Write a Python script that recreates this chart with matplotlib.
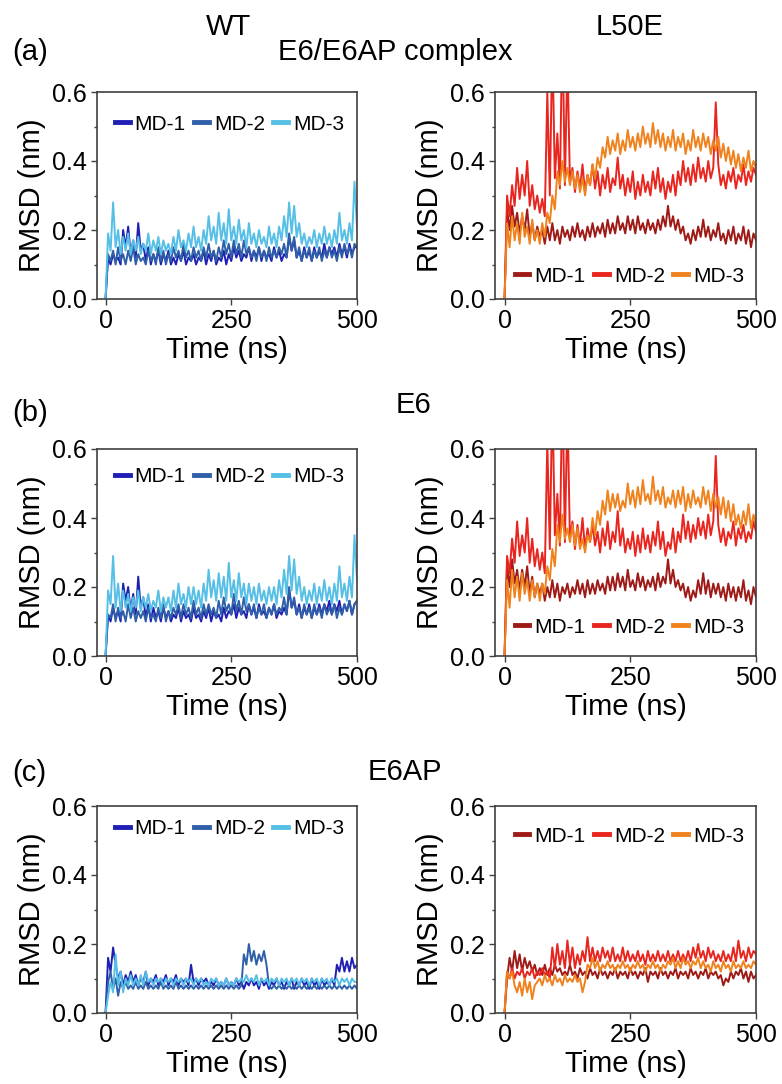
import numpy as np
import matplotlib.pyplot as plt

plt.rcParams['font.family'] = ['Liberation Sans', 'DejaVu Sans']

labels = ["MD-1", "MD-2", "MD-3"]
wt_colors = ["#1f1fb4", "#2f5fa8", "#55bfe6"]
mut_colors = ["#9e1a16", "#e8251e", "#f0821e"]

# (a) E6/E6AP complex
wt_a_md1 = [0.00, 0.12, 0.10, 0.13, 0.11, 0.12, 0.10, 0.20, 0.15, 0.21, 0.13, 0.17, 0.12, 0.22, 0.14, 0.16, 0.11, 0.15, 0.10, 0.13,
            0.11, 0.14, 0.10, 0.13, 0.11, 0.14, 0.10, 0.12, 0.10, 0.13, 0.11, 0.14, 0.10, 0.12, 0.11, 0.13, 0.10, 0.12, 0.11, 0.14,
            0.10, 0.13, 0.11, 0.14, 0.10, 0.12, 0.11, 0.14, 0.10, 0.13, 0.11, 0.15, 0.12, 0.14, 0.11, 0.13, 0.12, 0.15, 0.11, 0.14,
            0.12, 0.15, 0.11, 0.14, 0.12, 0.13, 0.11, 0.15, 0.12, 0.14, 0.11, 0.13, 0.12, 0.18, 0.14, 0.17, 0.12, 0.14, 0.11, 0.15,
            0.12, 0.14, 0.11, 0.15, 0.12, 0.14, 0.12, 0.16, 0.12, 0.15, 0.13, 0.15, 0.12, 0.16, 0.13, 0.15, 0.12, 0.16, 0.13, 0.15, 0.15]
wt_a_md2 = [0.00, 0.13, 0.11, 0.14, 0.10, 0.15, 0.11, 0.13, 0.10, 0.14, 0.11, 0.15, 0.10, 0.13, 0.11, 0.12, 0.10, 0.14, 0.11, 0.13,
            0.10, 0.15, 0.11, 0.14, 0.10, 0.13, 0.11, 0.15, 0.12, 0.14, 0.11, 0.16, 0.12, 0.14, 0.11, 0.15, 0.12, 0.14, 0.11, 0.15,
            0.12, 0.16, 0.12, 0.14, 0.11, 0.15, 0.12, 0.17, 0.13, 0.16, 0.12, 0.17, 0.13, 0.16, 0.12, 0.17, 0.13, 0.15, 0.12, 0.14,
            0.11, 0.15, 0.12, 0.14, 0.11, 0.15, 0.12, 0.14, 0.12, 0.15, 0.13, 0.16, 0.12, 0.19, 0.14, 0.18, 0.12, 0.15, 0.11, 0.14,
            0.12, 0.15, 0.11, 0.14, 0.12, 0.15, 0.11, 0.14, 0.12, 0.15, 0.12, 0.14, 0.11, 0.15, 0.12, 0.16, 0.13, 0.15, 0.12, 0.16, 0.15]
wt_a_md3 = [0.00, 0.19, 0.14, 0.28, 0.15, 0.20, 0.13, 0.18, 0.14, 0.19, 0.13, 0.17, 0.14, 0.18, 0.13, 0.16, 0.14, 0.19, 0.13, 0.17,
            0.14, 0.18, 0.13, 0.17, 0.14, 0.16, 0.13, 0.18, 0.14, 0.20, 0.15, 0.17, 0.14, 0.19, 0.15, 0.21, 0.15, 0.18, 0.14, 0.20,
            0.16, 0.24, 0.17, 0.21, 0.16, 0.25, 0.17, 0.22, 0.16, 0.26, 0.17, 0.21, 0.16, 0.23, 0.17, 0.20, 0.15, 0.22, 0.16, 0.19,
            0.15, 0.20, 0.16, 0.18, 0.15, 0.21, 0.16, 0.19, 0.15, 0.21, 0.17, 0.24, 0.18, 0.28, 0.19, 0.27, 0.18, 0.22, 0.16, 0.19,
            0.15, 0.18, 0.16, 0.20, 0.15, 0.19, 0.16, 0.21, 0.16, 0.19, 0.15, 0.20, 0.16, 0.25, 0.17, 0.20, 0.16, 0.22, 0.17, 0.34, 0.21]
mut_a_md1 = [0.00, 0.26, 0.20, 0.27, 0.21, 0.25, 0.19, 0.24, 0.20, 0.26, 0.18, 0.22, 0.17, 0.21, 0.18, 0.20, 0.16, 0.21, 0.17, 0.22,
             0.17, 0.20, 0.16, 0.21, 0.18, 0.20, 0.17, 0.21, 0.18, 0.22, 0.18, 0.20, 0.17, 0.21, 0.18, 0.22, 0.18, 0.21, 0.19, 0.22,
             0.18, 0.23, 0.19, 0.22, 0.19, 0.24, 0.20, 0.22, 0.19, 0.24, 0.20, 0.23, 0.19, 0.24, 0.20, 0.22, 0.19, 0.23, 0.20, 0.22,
             0.19, 0.23, 0.20, 0.24, 0.21, 0.27, 0.21, 0.24, 0.20, 0.23, 0.19, 0.21, 0.17, 0.19, 0.16, 0.20, 0.17, 0.21, 0.18, 0.23,
             0.18, 0.21, 0.17, 0.20, 0.18, 0.22, 0.17, 0.19, 0.16, 0.20, 0.17, 0.21, 0.16, 0.19, 0.17, 0.21, 0.16, 0.20, 0.15, 0.19, 0.17]
mut_a_md2 = [0.00, 0.30, 0.24, 0.33, 0.27, 0.38, 0.29, 0.36, 0.30, 0.40, 0.27, 0.33, 0.26, 0.30, 0.25, 0.29, 0.24, 0.60, 0.30, 0.75,
             0.35, 0.48, 0.32, 0.80, 0.33, 0.70, 0.34, 0.38, 0.31, 0.37, 0.32, 0.39, 0.31, 0.36, 0.33, 0.39, 0.32, 0.37, 0.30, 0.36,
             0.32, 0.38, 0.31, 0.35, 0.33, 0.41, 0.32, 0.36, 0.30, 0.35, 0.31, 0.37, 0.29, 0.34, 0.30, 0.36, 0.31, 0.34, 0.30, 0.37,
             0.32, 0.38, 0.31, 0.35, 0.29, 0.34, 0.31, 0.36, 0.30, 0.37, 0.33, 0.40, 0.34, 0.38, 0.33, 0.39, 0.34, 0.41, 0.35, 0.38,
             0.34, 0.40, 0.35, 0.38, 0.57, 0.39, 0.33, 0.36, 0.32, 0.37, 0.34, 0.38, 0.32, 0.36, 0.34, 0.39, 0.33, 0.37, 0.34, 0.38, 0.36]
mut_a_md3 = [0.00, 0.22, 0.15, 0.24, 0.17, 0.22, 0.16, 0.25, 0.18, 0.21, 0.16, 0.23, 0.17, 0.20, 0.16, 0.22, 0.18, 0.25, 0.22, 0.30,
             0.26, 0.37, 0.33, 0.40, 0.34, 0.38, 0.33, 0.37, 0.32, 0.36, 0.31, 0.35, 0.30, 0.36, 0.33, 0.39, 0.35, 0.41, 0.38, 0.44,
             0.41, 0.47, 0.42, 0.46, 0.43, 0.48, 0.42, 0.46, 0.43, 0.49, 0.44, 0.47, 0.43, 0.48, 0.44, 0.50, 0.45, 0.48, 0.44, 0.51,
             0.45, 0.49, 0.44, 0.48, 0.43, 0.47, 0.44, 0.49, 0.43, 0.47, 0.44, 0.48, 0.42, 0.46, 0.43, 0.49, 0.44, 0.47, 0.43, 0.48,
             0.44, 0.47, 0.42, 0.46, 0.43, 0.47, 0.41, 0.45, 0.40, 0.44, 0.39, 0.43, 0.38, 0.42, 0.37, 0.41, 0.38, 0.43, 0.37, 0.40, 0.38]

# (b) E6
wt_b_md1 = [0.00, 0.12, 0.10, 0.14, 0.11, 0.13, 0.10, 0.21, 0.16, 0.20, 0.13, 0.18, 0.12, 0.23, 0.14, 0.17, 0.11, 0.15, 0.10, 0.14,
            0.11, 0.13, 0.10, 0.14, 0.11, 0.13, 0.10, 0.12, 0.11, 0.14, 0.10, 0.13, 0.11, 0.12, 0.10, 0.14, 0.11, 0.12, 0.10, 0.13,
            0.11, 0.14, 0.10, 0.13, 0.11, 0.12, 0.10, 0.14, 0.11, 0.13, 0.12, 0.15, 0.11, 0.14, 0.12, 0.13, 0.11, 0.15, 0.12, 0.14,
            0.11, 0.15, 0.12, 0.13, 0.11, 0.14, 0.12, 0.15, 0.11, 0.13, 0.12, 0.14, 0.12, 0.19, 0.14, 0.16, 0.12, 0.15, 0.11, 0.14,
            0.12, 0.15, 0.11, 0.14, 0.12, 0.15, 0.12, 0.15, 0.13, 0.16, 0.12, 0.15, 0.13, 0.16, 0.12, 0.15, 0.13, 0.16, 0.12, 0.15, 0.16]
wt_b_md2 = [0.00, 0.12, 0.11, 0.15, 0.10, 0.14, 0.11, 0.13, 0.10, 0.15, 0.11, 0.14, 0.10, 0.13, 0.11, 0.13, 0.10, 0.14, 0.11, 0.12,
            0.10, 0.14, 0.11, 0.15, 0.10, 0.13, 0.11, 0.14, 0.12, 0.15, 0.11, 0.15, 0.12, 0.14, 0.11, 0.16, 0.12, 0.14, 0.11, 0.15,
            0.12, 0.15, 0.12, 0.14, 0.11, 0.16, 0.12, 0.17, 0.13, 0.15, 0.12, 0.18, 0.13, 0.16, 0.12, 0.17, 0.13, 0.15, 0.12, 0.15,
            0.11, 0.14, 0.12, 0.15, 0.11, 0.14, 0.12, 0.15, 0.12, 0.14, 0.13, 0.17, 0.12, 0.20, 0.14, 0.17, 0.12, 0.14, 0.11, 0.15,
            0.12, 0.14, 0.11, 0.15, 0.12, 0.14, 0.11, 0.15, 0.12, 0.14, 0.12, 0.15, 0.11, 0.14, 0.12, 0.15, 0.13, 0.16, 0.12, 0.15, 0.16]
wt_b_md3 = [0.00, 0.19, 0.15, 0.29, 0.14, 0.21, 0.13, 0.19, 0.14, 0.18, 0.13, 0.17, 0.14, 0.19, 0.13, 0.17, 0.14, 0.18, 0.13, 0.16,
            0.14, 0.19, 0.13, 0.17, 0.14, 0.17, 0.13, 0.19, 0.14, 0.21, 0.15, 0.18, 0.14, 0.20, 0.15, 0.20, 0.15, 0.19, 0.14, 0.21,
            0.16, 0.25, 0.17, 0.22, 0.16, 0.24, 0.17, 0.23, 0.16, 0.27, 0.17, 0.22, 0.16, 0.24, 0.17, 0.21, 0.15, 0.21, 0.16, 0.20,
            0.15, 0.21, 0.16, 0.19, 0.15, 0.20, 0.16, 0.20, 0.15, 0.22, 0.17, 0.25, 0.18, 0.29, 0.19, 0.28, 0.18, 0.23, 0.16, 0.20,
            0.15, 0.19, 0.16, 0.21, 0.15, 0.20, 0.16, 0.22, 0.16, 0.20, 0.15, 0.21, 0.16, 0.26, 0.17, 0.21, 0.16, 0.23, 0.17, 0.35, 0.22]
mut_b_md1 = [0.00, 0.27, 0.20, 0.28, 0.21, 0.25, 0.19, 0.25, 0.20, 0.26, 0.18, 0.23, 0.17, 0.21, 0.18, 0.21, 0.16, 0.20, 0.17, 0.22,
             0.17, 0.21, 0.16, 0.20, 0.18, 0.21, 0.17, 0.20, 0.18, 0.22, 0.18, 0.21, 0.17, 0.22, 0.18, 0.21, 0.18, 0.22, 0.19, 0.21,
             0.18, 0.23, 0.19, 0.23, 0.19, 0.24, 0.20, 0.23, 0.19, 0.25, 0.20, 0.22, 0.19, 0.24, 0.20, 0.23, 0.19, 0.22, 0.20, 0.23,
             0.19, 0.24, 0.20, 0.23, 0.21, 0.28, 0.21, 0.25, 0.20, 0.22, 0.19, 0.21, 0.17, 0.20, 0.16, 0.19, 0.17, 0.22, 0.18, 0.24,
             0.18, 0.22, 0.17, 0.21, 0.18, 0.21, 0.17, 0.20, 0.16, 0.21, 0.17, 0.20, 0.16, 0.20, 0.17, 0.22, 0.16, 0.19, 0.15, 0.20, 0.17]
mut_b_md2 = [0.00, 0.29, 0.24, 0.34, 0.27, 0.39, 0.29, 0.35, 0.30, 0.40, 0.27, 0.34, 0.26, 0.31, 0.25, 0.30, 0.24, 0.62, 0.31, 0.76,
             0.35, 0.47, 0.32, 0.80, 0.33, 0.72, 0.34, 0.39, 0.31, 0.38, 0.32, 0.40, 0.31, 0.37, 0.33, 0.38, 0.32, 0.36, 0.30, 0.37,
             0.32, 0.39, 0.31, 0.36, 0.33, 0.42, 0.32, 0.37, 0.30, 0.34, 0.31, 0.36, 0.29, 0.35, 0.30, 0.37, 0.31, 0.35, 0.30, 0.36,
             0.32, 0.39, 0.31, 0.36, 0.29, 0.33, 0.31, 0.37, 0.30, 0.36, 0.33, 0.41, 0.34, 0.39, 0.33, 0.38, 0.34, 0.40, 0.35, 0.39,
             0.34, 0.41, 0.35, 0.39, 0.58, 0.38, 0.33, 0.37, 0.32, 0.36, 0.34, 0.39, 0.32, 0.37, 0.34, 0.38, 0.33, 0.36, 0.34, 0.39, 0.36]
mut_b_md3 = [0.00, 0.22, 0.14, 0.25, 0.17, 0.23, 0.16, 0.24, 0.18, 0.22, 0.16, 0.22, 0.17, 0.21, 0.16, 0.21, 0.18, 0.26, 0.22, 0.31,
             0.26, 0.38, 0.33, 0.41, 0.34, 0.37, 0.33, 0.38, 0.32, 0.37, 0.31, 0.34, 0.30, 0.35, 0.33, 0.40, 0.35, 0.42, 0.38, 0.45,
             0.41, 0.48, 0.42, 0.47, 0.43, 0.47, 0.42, 0.45, 0.43, 0.50, 0.44, 0.48, 0.43, 0.49, 0.44, 0.51, 0.45, 0.47, 0.44, 0.52,
             0.45, 0.48, 0.44, 0.49, 0.43, 0.46, 0.44, 0.48, 0.43, 0.48, 0.44, 0.49, 0.42, 0.47, 0.43, 0.48, 0.44, 0.46, 0.43, 0.49,
             0.44, 0.48, 0.42, 0.47, 0.43, 0.46, 0.41, 0.46, 0.40, 0.45, 0.39, 0.44, 0.38, 0.41, 0.37, 0.42, 0.38, 0.44, 0.37, 0.41, 0.38]

# (c) E6AP
wt_c_md1 = [0.00, 0.16, 0.12, 0.19, 0.14, 0.10, 0.12, 0.08, 0.11, 0.09, 0.12, 0.09, 0.11, 0.08, 0.10, 0.09, 0.12, 0.08, 0.10, 0.09,
            0.11, 0.08, 0.10, 0.09, 0.11, 0.08, 0.10, 0.09, 0.11, 0.08, 0.10, 0.09, 0.10, 0.08, 0.14, 0.09, 0.10, 0.08, 0.10, 0.09,
            0.10, 0.08, 0.09, 0.08, 0.10, 0.08, 0.09, 0.08, 0.10, 0.08, 0.09, 0.08, 0.10, 0.08, 0.09, 0.07, 0.09, 0.08, 0.10, 0.08,
            0.09, 0.07, 0.10, 0.08, 0.09, 0.07, 0.09, 0.08, 0.10, 0.08, 0.09, 0.07, 0.09, 0.08, 0.10, 0.07, 0.09, 0.08, 0.10, 0.08,
            0.09, 0.07, 0.10, 0.08, 0.09, 0.07, 0.10, 0.08, 0.09, 0.08, 0.10, 0.08, 0.14, 0.12, 0.16, 0.12, 0.15, 0.12, 0.16, 0.13, 0.14]
wt_c_md2 = [0.00, 0.09, 0.12, 0.07, 0.10, 0.05, 0.09, 0.07, 0.09, 0.07, 0.08, 0.07, 0.09, 0.07, 0.08, 0.07, 0.09, 0.07, 0.08, 0.07,
            0.08, 0.07, 0.09, 0.07, 0.08, 0.07, 0.08, 0.07, 0.09, 0.07, 0.08, 0.07, 0.08, 0.07, 0.08, 0.07, 0.08, 0.07, 0.08, 0.07,
            0.08, 0.07, 0.08, 0.07, 0.08, 0.07, 0.08, 0.07, 0.08, 0.07, 0.08, 0.07, 0.08, 0.07, 0.08, 0.17, 0.14, 0.20, 0.15, 0.18,
            0.14, 0.17, 0.15, 0.18, 0.14, 0.08, 0.07, 0.08, 0.07, 0.08, 0.07, 0.08, 0.07, 0.08, 0.07, 0.08, 0.07, 0.08, 0.07, 0.08,
            0.07, 0.08, 0.07, 0.08, 0.07, 0.08, 0.07, 0.08, 0.07, 0.08, 0.07, 0.08, 0.07, 0.08, 0.07, 0.08, 0.07, 0.08, 0.07, 0.08, 0.07]
wt_c_md3 = [0.00, 0.05, 0.09, 0.06, 0.17, 0.08, 0.12, 0.06, 0.10, 0.08, 0.11, 0.08, 0.10, 0.08, 0.11, 0.08, 0.12, 0.09, 0.10, 0.08,
            0.10, 0.09, 0.10, 0.08, 0.10, 0.09, 0.10, 0.08, 0.10, 0.09, 0.10, 0.08, 0.10, 0.09, 0.10, 0.08, 0.10, 0.09, 0.10, 0.08,
            0.09, 0.08, 0.10, 0.09, 0.10, 0.08, 0.09, 0.08, 0.10, 0.08, 0.09, 0.08, 0.10, 0.09, 0.10, 0.09, 0.11, 0.09, 0.10, 0.09,
            0.11, 0.08, 0.10, 0.09, 0.10, 0.08, 0.10, 0.09, 0.10, 0.08, 0.10, 0.09, 0.10, 0.08, 0.10, 0.09, 0.10, 0.08, 0.10, 0.09,
            0.10, 0.08, 0.10, 0.09, 0.10, 0.08, 0.10, 0.09, 0.10, 0.08, 0.10, 0.09, 0.10, 0.08, 0.10, 0.09, 0.10, 0.08, 0.10, 0.09, 0.09]
mut_c_md1 = [0.00, 0.10, 0.16, 0.12, 0.18, 0.13, 0.17, 0.12, 0.16, 0.13, 0.15, 0.12, 0.14, 0.11, 0.13, 0.11, 0.14, 0.11, 0.13, 0.11,
             0.14, 0.12, 0.13, 0.11, 0.12, 0.11, 0.14, 0.11, 0.12, 0.10, 0.13, 0.11, 0.12, 0.10, 0.13, 0.11, 0.12, 0.10, 0.13, 0.11,
             0.12, 0.10, 0.12, 0.11, 0.13, 0.10, 0.12, 0.11, 0.12, 0.10, 0.13, 0.11, 0.12, 0.10, 0.12, 0.11, 0.13, 0.09, 0.12, 0.11,
             0.12, 0.10, 0.13, 0.11, 0.12, 0.10, 0.12, 0.11, 0.13, 0.10, 0.12, 0.11, 0.12, 0.10, 0.13, 0.11, 0.12, 0.10, 0.12, 0.11,
             0.13, 0.10, 0.12, 0.11, 0.12, 0.10, 0.11, 0.08, 0.10, 0.09, 0.12, 0.10, 0.12, 0.11, 0.13, 0.10, 0.12, 0.09, 0.12, 0.10, 0.11]
mut_c_md2 = [0.00, 0.12, 0.10, 0.13, 0.10, 0.12, 0.11, 0.13, 0.10, 0.12, 0.11, 0.13, 0.10, 0.12, 0.11, 0.13, 0.11, 0.12, 0.10, 0.19,
             0.13, 0.20, 0.14, 0.18, 0.13, 0.21, 0.14, 0.19, 0.13, 0.17, 0.14, 0.18, 0.15, 0.22, 0.15, 0.19, 0.15, 0.18, 0.15, 0.19,
             0.16, 0.18, 0.15, 0.19, 0.15, 0.17, 0.15, 0.19, 0.15, 0.18, 0.15, 0.17, 0.15, 0.18, 0.15, 0.17, 0.14, 0.18, 0.15, 0.17,
             0.15, 0.18, 0.15, 0.17, 0.15, 0.18, 0.15, 0.17, 0.15, 0.18, 0.15, 0.17, 0.15, 0.18, 0.15, 0.19, 0.16, 0.20, 0.16, 0.18,
             0.15, 0.19, 0.16, 0.18, 0.15, 0.17, 0.15, 0.18, 0.15, 0.17, 0.15, 0.19, 0.15, 0.21, 0.16, 0.18, 0.15, 0.19, 0.16, 0.18, 0.17]
mut_c_md3 = [0.00, 0.12, 0.10, 0.12, 0.08, 0.06, 0.09, 0.05, 0.10, 0.06, 0.09, 0.04, 0.08, 0.09, 0.10, 0.08, 0.11, 0.09, 0.10, 0.08,
             0.11, 0.09, 0.10, 0.08, 0.11, 0.09, 0.10, 0.09, 0.11, 0.09, 0.10, 0.06, 0.09, 0.14, 0.13, 0.16, 0.13, 0.15, 0.12, 0.14,
             0.13, 0.15, 0.13, 0.14, 0.12, 0.14, 0.13, 0.15, 0.13, 0.14, 0.12, 0.14, 0.13, 0.15, 0.13, 0.14, 0.12, 0.14, 0.13, 0.15,
             0.13, 0.14, 0.12, 0.14, 0.13, 0.15, 0.14, 0.16, 0.13, 0.15, 0.13, 0.16, 0.14, 0.15, 0.13, 0.15, 0.14, 0.16, 0.13, 0.15,
             0.13, 0.14, 0.12, 0.15, 0.13, 0.14, 0.12, 0.15, 0.13, 0.14, 0.12, 0.15, 0.13, 0.14, 0.13, 0.15, 0.13, 0.14, 0.13, 0.15, 0.14]


def plot_panel(ax, series, colors, legend_xy, xmin):
    for values, color, label in zip(series, colors, labels):
        t = np.linspace(0, 500, len(values))
        ax.plot(t, values, color=color, lw=1.4, label=label)
    ax.set_xlim(xmin, 500)
    ax.set_ylim(0, 0.6)
    ax.set_xticks([0, 250, 500])
    ax.set_yticks([0.0, 0.2, 0.4, 0.6])
    ax.set_yticks([0.1, 0.3, 0.5], minor=True)
    ax.set_yticklabels(['0.0', '0.2', '0.4', '0.6'])
    ax.tick_params(labelsize=18, direction='out', length=4, width=1, color='#404040')
    ax.tick_params(which='minor', length=2.5, width=1, color='#404040')
    for sp in ax.spines.values():
        sp.set_color('#404040')
        sp.set_linewidth(1.2)
    ax.set_xlabel('Time (ns)', fontsize=21, labelpad=2)
    ax.set_ylabel('RMSD (nm)', fontsize=21, labelpad=4)
    leg = ax.legend(loc='center', bbox_to_anchor=legend_xy, ncol=3, frameon=False, fontsize=15,
                    handlelength=0.7, handletextpad=0.25, columnspacing=0.4)
    for h in leg.get_lines():
        h.set_linewidth(3.5)


fig = plt.figure(figsize=(7.82, 10.84), dpi=100)
W, H = 782, 1084


def add_ax(x0, y0, x1, y1):
    return fig.add_axes([x0 / W, 1 - y1 / H, (x1 - x0) / W, (y1 - y0) / H])


rows = [
    (92, 299, [wt_a_md1, wt_a_md2, wt_a_md3], [mut_a_md1, mut_a_md2, mut_a_md3], (0.51, 0.845), (0.515, 0.11)),
    (449, 656, [wt_b_md1, wt_b_md2, wt_b_md3], [mut_b_md1, mut_b_md2, mut_b_md3], (0.51, 0.865), (0.515, 0.14)),
    (806, 1013, [wt_c_md1, wt_c_md2, wt_c_md3], [mut_c_md1, mut_c_md2, mut_c_md3], (0.51, 0.89), (0.515, 0.855)),
]
for top, bottom, wt, mut, wt_leg, mut_leg in rows:
    ax_l = add_ax(97, top, 357, bottom)
    plot_panel(ax_l, wt, wt_colors, wt_leg, -17)
    ax_r = add_ax(495, top, 756, bottom)
    plot_panel(ax_r, mut, mut_colors, mut_leg, -19)


def ftext(x, y, s, size=21, ha='center'):
    fig.text(x / W, 1 - y / H, s, fontsize=size, ha=ha, va='center')


ftext(228, 27, 'WT')
ftext(630, 27, 'L50E')
ftext(12, 52, '(a)', ha='left')
ftext(395, 52, 'E6/E6AP complex')
ftext(12, 413, '(b)', ha='left')
ftext(413, 405, 'E6')
ftext(12, 773, '(c)', ha='left')
ftext(405, 772, 'E6AP')

fig.savefig('out.png', dpi=100, facecolor='white')
